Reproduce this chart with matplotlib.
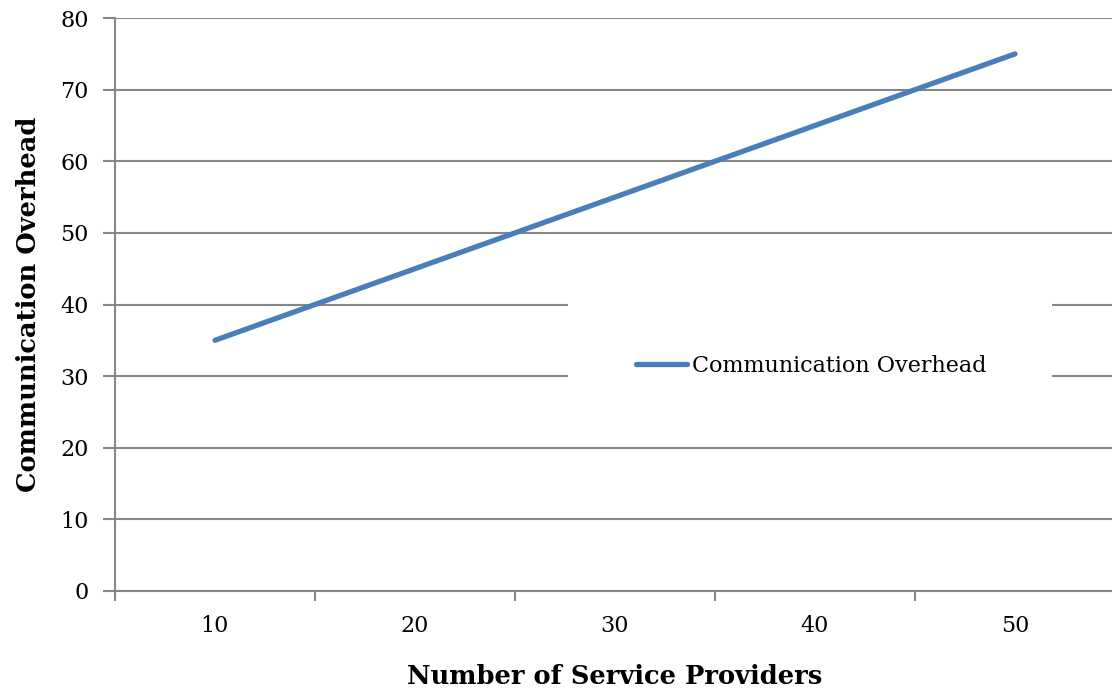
import matplotlib.pyplot as plt
from matplotlib.patches import Rectangle

# data
providers = [10, 20, 30, 40, 50]
overhead = [35, 45, 55, 65, 75]
y_ticks = [0, 10, 20, 30, 40, 50, 60, 70, 80]

grid_col = '#868686'
line_col = '#4A7EBB'

plt.rcParams['font.family'] = ['DejaVu Serif']

fig = plt.figure(figsize=(11.12, 6.96), dpi=100)
ax = fig.add_axes([0.1034, 0.151, 0.8993, 0.823])

ax.plot(providers, overhead, color=line_col, lw=3.8, solid_capstyle='round',
        label='Communication Overhead', zorder=3)

ax.set_xlim(5, 55)
ax.set_ylim(0, 80)

# category axis: tick marks between categories, labels centred on them
ax.set_xticks([5, 15, 25, 35, 45, 55])
ax.set_xticklabels([])
ax.set_xticks(providers, minor=True)
ax.set_xticklabels([str(p) for p in providers], minor=True, fontsize=16)
ax.tick_params(axis='x', which='major', length=7, width=1.5, color=grid_col, direction='out')
ax.tick_params(axis='x', which='minor', length=0, pad=17)

ax.set_yticks(y_ticks)
ax.set_yticklabels([str(v) for v in y_ticks], fontsize=16)
ax.tick_params(axis='y', length=9, width=1.5, color=grid_col, pad=10)

ax.grid(axis='y', color=grid_col, lw=1.5)
ax.set_axisbelow(True)
for s in ['top', 'right']:
    ax.spines[s].set_visible(False)
for s in ['left', 'bottom']:
    ax.spines[s].set_color(grid_col)
    ax.spines[s].set_linewidth(1.5)

ax.set_xlabel('Number of Service Providers', fontsize=18.5, fontweight='bold', labelpad=20)
ax.set_ylabel('Communication Overhead', fontsize=18.5, fontweight='bold', labelpad=14)

# legend sits on a white panel that hides the gridlines behind it
ax.add_patch(Rectangle((568 / 1112, 1 - 388 / 696), 484 / 1112, 92 / 696,
                       transform=fig.transFigure, facecolor='white',
                       edgecolor='none', zorder=2, clip_on=False))
leg = ax.legend(loc='center left', bbox_to_anchor=(636 / 1112, 1 - 366 / 696),
                bbox_transform=fig.transFigure, frameon=False, fontsize=16,
                handlelength=2.3, handletextpad=0.2, borderaxespad=0, borderpad=0)
leg.set_zorder(5)

fig.savefig('out.png', dpi=100)
